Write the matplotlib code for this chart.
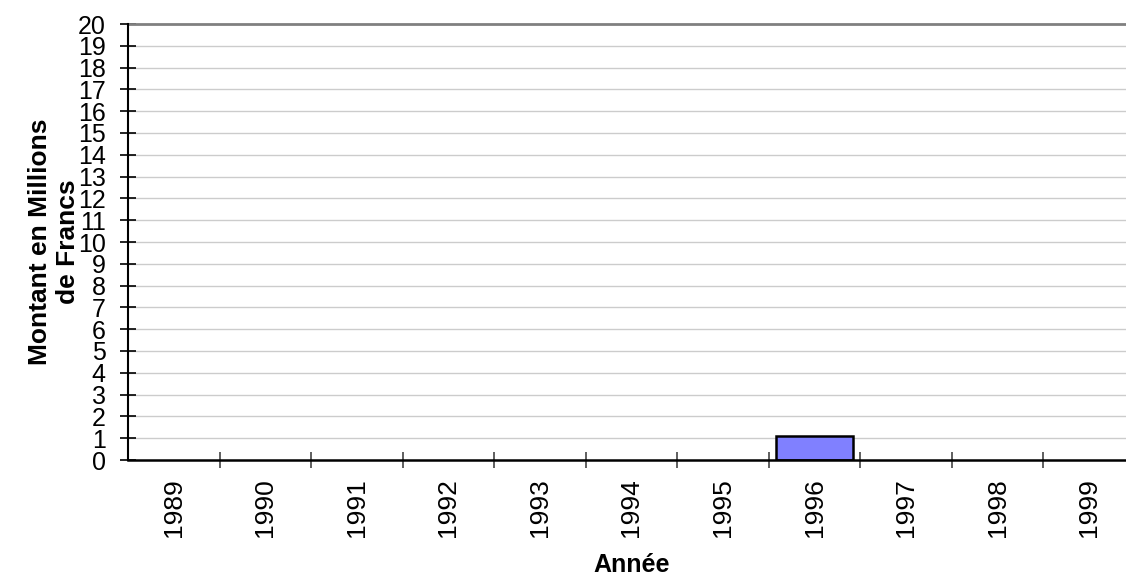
import matplotlib
matplotlib.use("Agg")
from matplotlib import pyplot as plt
from matplotlib.ticker import FixedLocator
import numpy as np

plt.rcParams['font.family'] = ['Liberation Sans', 'DejaVu Sans']

# montants annuels, en millions de francs
annees = ["1989", "1990", "1991", "1992", "1993", "1994",
          "1995", "1996", "1997", "1998", "1999"]
montants = [0, 0, 0, 0, 0, 0, 0, 1.1, 0, 0, 0]
graduations = list(range(0, 21))

W, H = 1126, 585
fig = plt.figure(figsize=(W / 100, H / 100), dpi=100)
# the plot area runs a little past the right edge of the figure
ax = fig.add_axes([128 / W, (H - 460) / H, 1007 / W, 436 / H])

x = np.arange(len(annees))
# empty years get no outline
bords = [1.8 if m > 0 else 0 for m in montants]
ax.bar(x, montants, width=0.84, color="#8080ff", edgecolor="black",
       linewidth=bords, zorder=3)

ax.set_xlim(-0.5, len(annees) - 0.5)
ax.set_ylim(0, 20)

# horizontal grid lines, the top one darker
for g in graduations[1:-1]:
    ax.axhline(g, color="#cccccc", linewidth=1.0, zorder=1)
ax.axhline(20, color="#808080", linewidth=2.0, zorder=2, clip_on=False)

for side in ("top", "right"):
    ax.spines[side].set_visible(False)
ax.spines["left"].set_linewidth(1.5)
ax.spines["bottom"].set_linewidth(1.8)
ax.spines["left"].set_zorder(4)
ax.spines["bottom"].set_zorder(4)

# y axis: labels and crossing tick marks at every integer
ax.set_yticks(graduations)
ax.set_yticklabels([str(g) for g in graduations])
ax.tick_params(axis="y", direction="inout", length=12, width=1.2,
               pad=10, labelsize=18, color="black")

# x axis: labels centred on the categories, ticks between them
ax.set_xticks(x)
ax.set_xticklabels(annees, rotation=90, va="top", ha="center")
ax.xaxis.set_minor_locator(FixedLocator(x[:-1] + 0.5))
ax.tick_params(axis="x", which="major", length=0, pad=13, labelsize=19)
ax.tick_params(axis="x", which="minor", direction="inout", length=12,
               width=1.2, color="#444444")

ax.set_xlabel("Année", fontsize=18, fontweight="bold")
ax.xaxis.set_label_coords(0.5, -(565 - 460) / 436)
ax.xaxis.label.set_va("center")

ax.set_ylabel("Montant en Millions\nde Francs", fontsize=19,
              fontweight="bold", ha="center", linespacing=1.2)
ax.yaxis.set_label_coords(-(128 - 80) / 1007, 0.5)

fig.savefig("out.png", dpi=100)
